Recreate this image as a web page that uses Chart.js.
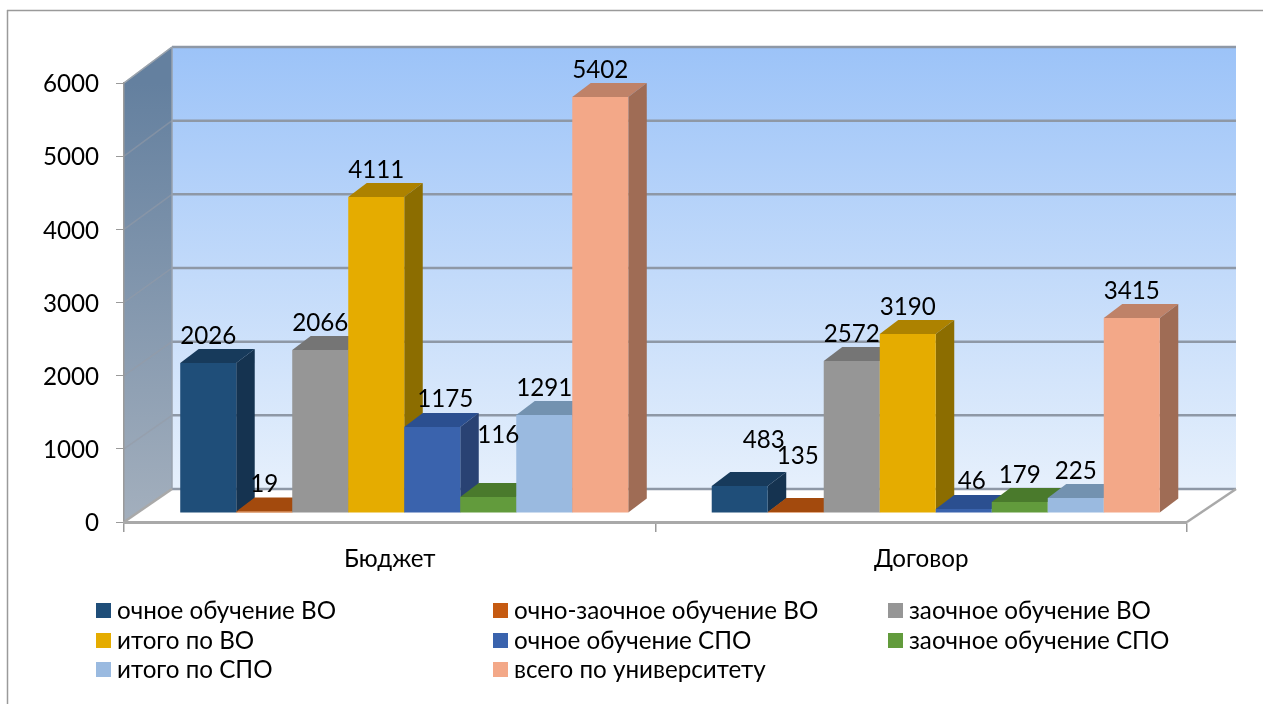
<!DOCTYPE html>
<html>
<head>
<meta charset="utf-8">
<style>html,body{margin:0;padding:0;background:#fff}canvas{display:block}</style>
<script src="https://cdn.jsdelivr.net/npm/chart.js@4"></script>
</head>
<body>
<canvas id="c" width="1263" height="704"></canvas>
<script>
const categories = ['Бюджет', 'Договор'];
const seriesNames = ['очное обучение ВО', 'очно-заочное обучение ВО', 'заочное обучение ВО', 'итого по ВО',
  'очное обучение СПО', 'заочное обучение СПО', 'итого по СПО', 'всего по университету'];
// Bar heights as drawn in the picture, read against the axis (they differ from the printed labels there).
const ochnoeVO = [2050, 369];
const ochnoZaochnoeVO = [19, 14];
const zaochnoeVO = [2228, 2077];
const itogoVO = [4319, 2446];
const ochnoeSPO = [1175, 55];
const zaochnoeSPO = [219, 150];
const itogoSPO = [1339, 205];
const vsego = [5685, 2665];
// Numbers printed above the bars.
const printedBudget = ['2026', '19', '2066', '4111', '1175', '116', '1291', '5402'];
const printedDogovor = ['483', '135', '2572', '3190', '46', '179', '225', '3415'];
const yTicks = [0, 1000, 2000, 3000, 4000, 5000, 6000];

const seriesValues = [ochnoeVO, ochnoZaochnoeVO, zaochnoeVO, itogoVO, ochnoeSPO, zaochnoeSPO, itogoSPO, vsego];
const frontColors = ['#1F4E79', '#C55A11', '#969696', '#E5AC00', '#3A63AD', '#629B3C', '#9ABAE0', '#F3A888'];
const topColors = ['#173A5B', '#A34A0D', '#757575', '#AD8200', '#2B4F90', '#4A7A2C', '#7392B0', '#BF8268'];
const sideColors = ['#153350', '#8A3F0B', '#666666', '#8C6D00', '#294273', '#3F6825', '#64809C', '#9F6C55'];

const FONT = '"Lato","Open Sans",sans-serif';
const FS = 24.2;
const bar3d = { shiftX: 14.5, shiftY: -9, depthX: 18.5, depthY: 14 };
const room = { backX0: 172, backX1: 1236, back0: 489, back6000: 47 };
// Label placement relative to each bar's top-centre: [series][category] -> [dx, dy]
const labelShift = { '4,0': [13, -28], '5,0': [10, -62], '0,1': [24, -46], '1,1': [2, -56], '4,1': [8, -28] };
const legendCols = [96, 493, 888], legendRows = [610, 640, 669];

function poly(ctx, pts, fill) {
  ctx.beginPath();
  pts.forEach((p, i) => i ? ctx.lineTo(p[0], p[1]) : ctx.moveTo(p[0], p[1]));
  ctx.closePath();
  ctx.fillStyle = fill;
  ctx.fill();
}
function line(ctx, x0, y0, x1, y1, col, w) {
  ctx.beginPath(); ctx.moveTo(x0, y0); ctx.lineTo(x1, y1);
  ctx.strokeStyle = col; ctx.lineWidth = w; ctx.stroke();
}

const scene = {
  id: 'scene',
  beforeDraw(chart) {
    const { ctx, chartArea: a, scales: { y } } = chart;
    const backY = v => room.back0 + (room.back6000 - room.back0) * v / 6000;
    ctx.save();
    // frame
    line(ctx, 7.5, 10, 7.5, 704, '#9a9a9a', 1.5);
    line(ctx, 7, 10.5, 1263, 10.5, '#9a9a9a', 1.5);
    // back wall
    const gb = ctx.createLinearGradient(0, room.back6000, 0, room.back0);
    gb.addColorStop(0, '#9CC3F8'); gb.addColorStop(1, '#E6F0FC');
    ctx.fillStyle = gb;
    ctx.fillRect(room.backX0, room.back6000, room.backX1 - room.backX0, room.back0 - room.back6000);
    // side wall
    const gs = ctx.createLinearGradient(0, a.top, 0, a.bottom);
    gs.addColorStop(0, '#64809F'); gs.addColorStop(1, '#A3AFBD');
    poly(ctx, [[a.left, a.top], [room.backX0, room.back6000], [room.backX0, room.back0], [a.left, a.bottom]], gs);
    // floor
    poly(ctx, [[a.left, a.bottom], [room.backX0, room.back0], [room.backX1, room.back0], [a.right, a.bottom]], '#ffffff');
    // grid
    yTicks.forEach(v => {
      line(ctx, room.backX0, backY(v), room.backX1, backY(v), '#8E98A6', 2.5);
      if (v > 0) line(ctx, a.left, y.getPixelForValue(v), room.backX0, backY(v), 'rgba(150,155,165,0.55)', 1.5);
    });
    line(ctx, a.left, a.top, room.backX0, room.back6000, '#9aa3ad', 1.5);
    line(ctx, room.backX0, room.back6000, room.backX0, room.back0, '#98a2ae', 1.5);
    line(ctx, a.left, a.bottom, room.backX0, room.back0, '#a9a9a9', 2.5);
    line(ctx, a.right, a.bottom, room.backX1, room.back0, '#a9a9a9', 2.5);
    ctx.restore();
  },
  beforeDatasetsDraw(chart) {
    const ctx = chart.ctx, d = bar3d;
    chart.data.datasets.forEach((ds, i) => {
      const meta = chart.getDatasetMeta(i);
      ctx.save();
      ctx.translate(d.shiftX, d.shiftY);
      meta.data.forEach(el => {
        const l = el.x - el.width / 2, r = el.x + el.width / 2;
        poly(ctx, [[l, el.y], [l + d.depthX, el.y - d.depthY], [r + d.depthX, el.y - d.depthY], [r, el.y]], topColors[i]);
        poly(ctx, [[r, el.y], [r + d.depthX, el.y - d.depthY], [r + d.depthX, el.base - d.depthY], [r, el.base]], sideColors[i]);
      });
      meta.controller.draw();
      ctx.restore();
    });
    return false;
  },
  afterDraw(chart) {
    const ctx = chart.ctx, d = bar3d;
    const printed = [printedBudget, printedDogovor];
    ctx.save();
    ctx.font = FS + 'px ' + FONT;
    ctx.fillStyle = '#000';
    ctx.textAlign = 'center';
    ctx.textBaseline = 'middle';
    chart.data.datasets.forEach((ds, i) => {
      chart.getDatasetMeta(i).data.forEach((el, c) => {
        const s = labelShift[i + ',' + c] || [0, -27];
        ctx.fillText(printed[c][i], el.x + d.shiftX + s[0], el.y + d.shiftY + s[1]);
      });
    });
    ctx.textAlign = 'left';
    seriesNames.forEach((name, i) => {
      const x = legendCols[i % 3], y = legendRows[Math.floor(i / 3)];
      ctx.fillStyle = frontColors[i];
      ctx.fillRect(x, y - 7, 15, 15);
      ctx.fillStyle = '#000';
      ctx.fillText(name, x + 21, y + 1);
    });
    ctx.restore();
  }
};

new Chart(document.getElementById('c'), {
  type: 'bar',
  data: {
    labels: categories,
    datasets: seriesNames.map((n, i) => ({
      label: n, data: seriesValues[i], backgroundColor: frontColors[i],
      barPercentage: 1, categoryPercentage: 0.843, borderWidth: 0
    }))
  },
  plugins: [scene],
  options: {
    responsive: false,
    animation: false,
    layout: { padding: { top: 83, right: 76, left: 0, bottom: 0 } },
    plugins: { legend: { display: false }, title: { display: false }, tooltip: { enabled: false } },
    scales: {
      y: {
        min: 0, max: 6000,
        afterFit: s => { s.width = 124; },
        afterBuildTicks: s => { s.ticks = yTicks.map(v => ({ value: v })); },
        grid: { drawOnChartArea: false, color: '#9a9a9a', tickLength: 8, lineWidth: 1 },
        border: { color: '#9a9a9a', width: 1.5 },
        ticks: { color: '#000', padding: 17, labelOffset: 1.5, callback: v => String(v), font: { family: FONT, size: FS } }
      },
      x: {
        afterFit: s => { s.height = 182; },
        grid: { drawOnChartArea: false, color: '#9a9a9a', tickLength: 10, lineWidth: 1.5, offset: true },
        border: { color: '#a9a9a9', width: 3 },
        ticks: { color: '#000', padding: 13, font: { family: FONT, size: FS } }
      }
    }
  }
});
</script>
</body>
</html>
